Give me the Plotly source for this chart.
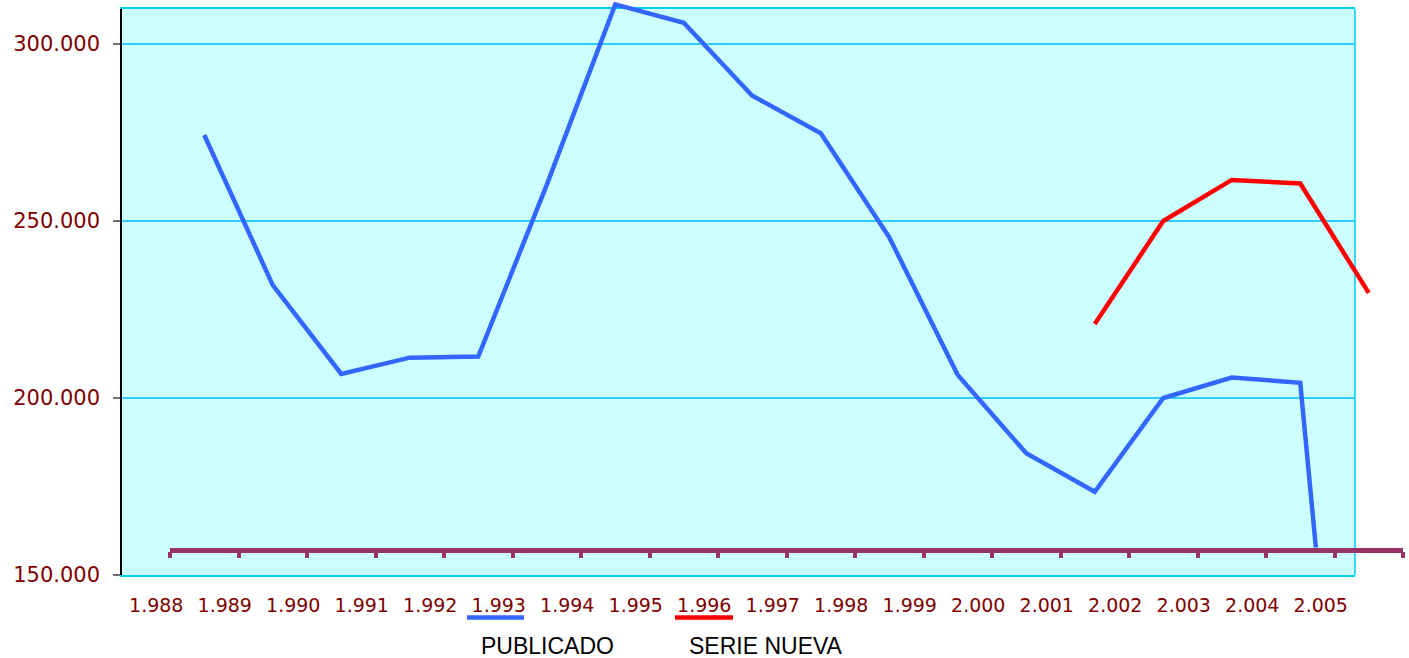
import plotly.graph_objects as go

# ---------------- data ----------------
years = list(range(1988, 2006))
year_labels = ["1.988", "1.989", "1.990", "1.991", "1.992", "1.993", "1.994", "1.995", "1.996",
               "1.997", "1.998", "1.999", "2.000", "2.001", "2.002", "2.003", "2.004", "2.005"]
publicado = [274300, 231900, 206800, 211400, 211700, 260200, 311200, 306000, 285400,
             274800, 245400, 206500, 184400, 173500, 200000, 205800, 204300, 0]
serie_nueva = [None, None, None, None, None, None, None, None, None,
               None, None, None, None, 220900, 250000, 261600, 260600, 229700]
y_ticks = [150000, 200000, 250000, 300000]
series_names = ["PUBLICADO", "SERIE NUEVA"]

# ---------------- geometry (pixels) ----------------
W, H = 1409, 658
def fx(p):
    return p / W
def fy(p):
    return 1 - p / H

PLOT_L, PLOT_R, PLOT_T, PLOT_B = 122, 1355, 9, 575
AX2_L, AX2_R, AX2_B, AX2_T = 170, 1403, 547.5, 0
Y_MIN = 150000
PX_PER_UNIT = 177 / 50000.0

def y_at(p):
    return Y_MIN + (PLOT_B - p) / PX_PER_UNIT

BLUE = "#3366FF"
RED = "#FF0000"
PURPLE = "#993366"
CYAN_LINE = "#00CCFF"
GRID = "#33CCFF"
LABEL = "#800000"

n = len(years)
xpos = [i + 0.5 for i in range(n)]

fig = go.Figure()
# empty trace so that the main (category) subplot is created
fig.add_trace(go.Scatter(x=[None], y=[None], xaxis="x", yaxis="y", mode="lines",
                         showlegend=False, hoverinfo="skip"))
fig.add_trace(go.Scatter(x=xpos, y=publicado, xaxis="x2", yaxis="y2", mode="lines",
                         name=series_names[0], line=dict(color=BLUE, width=4.5)))
fig.add_trace(go.Scatter(x=xpos, y=serie_nueva, xaxis="x2", yaxis="y2", mode="lines",
                         name=series_names[1], line=dict(color=RED, width=4.5),
                         connectgaps=False))

tick_font_x = dict(family="DejaVu Sans", size=19, color=LABEL)
tick_font_y = dict(family="DejaVu Sans", size=21, color=LABEL)

fig.update_layout(
    width=W, height=H, autosize=False,
    margin=dict(l=0, r=0, t=0, b=0, pad=0),
    paper_bgcolor="white", plot_bgcolor="rgba(0,0,0,0)",
    showlegend=False, separators=",.",
    xaxis=dict(domain=[fx(PLOT_L), fx(PLOT_R)], range=[-0.5, n - 0.5], anchor="y",
               tickmode="array", tickvals=list(range(n)), ticktext=year_labels,
               showgrid=False, zeroline=False, showline=True, mirror=True,
               linecolor=CYAN_LINE, linewidth=1.5, ticks="", tickfont=tick_font_x,
               ticklabelstandoff=12, automargin=False, fixedrange=True),
    yaxis=dict(domain=[fy(PLOT_B), fy(PLOT_T)], range=[Y_MIN, y_at(PLOT_T)], anchor="x",
               tickmode="array", tickvals=y_ticks, tickformat=",.0f",
               showgrid=True, gridcolor=GRID, gridwidth=1.5, zeroline=False,
               showline=True, linecolor="black", linewidth=1.5,
               ticks="outside", ticklen=7, tickwidth=1.5, tickcolor="#707070",
               tickfont=tick_font_y, ticklabelstandoff=9, automargin=False, fixedrange=True),
    xaxis2=dict(domain=[fx(AX2_L), fx(AX2_R)], range=[0, n], anchor="y2",
                tickmode="array", tickvals=list(range(n + 1)), showticklabels=False,
                ticks="outside", ticklen=6, tickwidth=3.5, tickcolor=PURPLE,
                showline=True, linecolor=PURPLE, linewidth=4.5,
                showgrid=False, zeroline=False, automargin=False, fixedrange=True),
    yaxis2=dict(domain=[fy(AX2_B), fy(AX2_T)], range=[y_at(AX2_B), y_at(AX2_T)], anchor="x2",
                visible=False, showgrid=False, zeroline=False, fixedrange=True),
    shapes=[
        dict(type="rect", xref="x domain", yref="y domain", x0=0, x1=1, y0=0, y1=1,
             fillcolor="#CCFFFF", line=dict(width=0), layer="below"),
        dict(type="line", xref="x domain", yref="y domain", x0=1, x1=1, y0=0, y1=1,
             line=dict(color=CYAN_LINE, width=1.5), layer="below"),
        dict(type="line", xref="paper", yref="paper", x0=fx(467), x1=fx(524),
             y0=fy(617.5), y1=fy(617.5), line=dict(color=BLUE, width=4.5)),
        dict(type="line", xref="paper", yref="paper", x0=fx(675), x1=fx(733),
             y0=fy(617.5), y1=fy(617.5), line=dict(color=RED, width=4.5)),
    ],
    annotations=[
        dict(text=series_names[0], xref="paper", yref="paper", x=fx(547.5), y=fy(645.5),
             xanchor="center", yanchor="middle", showarrow=False,
             font=dict(family="Liberation Sans", size=23, color="black")),
        dict(text=series_names[1], xref="paper", yref="paper", x=fx(766.5), y=fy(645.5),
             xanchor="center", yanchor="middle", showarrow=False,
             font=dict(family="Liberation Sans", size=23, color="black")),
    ],
)

fig.write_html("out.html", config={"displayModeBar": False},
               post_script="document.body.style.margin='0px';")
